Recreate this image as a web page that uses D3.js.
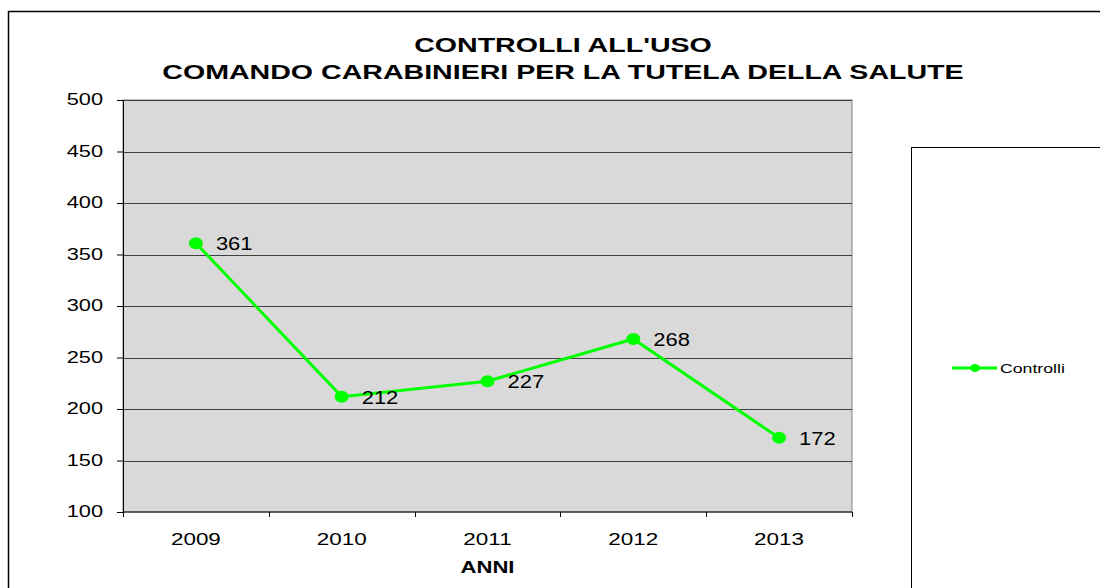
<!DOCTYPE html>
<head>
  <meta charset="utf-8">
  <title>Controlli all'uso</title>
  <style>
    body { margin: 0; background: #fff; }
    text { font-family: Arial, "Liberation Sans", sans-serif; fill: #000; }
  </style>
</head>
<body>
  <script src="https://cdn.jsdelivr.net/npm/d3@7/dist/d3.min.js"></script>
  <script>
    // data
    var years = ["2009", "2010", "2011", "2012", "2013"];
    var controlli = [361, 212, 227, 268, 172];
    var yTicks = [100, 150, 200, 250, 300, 350, 400, 450, 500];
    var seriesName = "Controlli";
    var titleLines = ["CONTROLLI ALL'USO", "COMANDO CARABINIERI PER LA TUTELA DELLA SALUTE"];

    var w = 1100, h = 588;
    // plot area edges (avoid "top", it is window.top)
    var pLeft = 123, pRight = 852, pTop = 100, pBottom = 512;
    var green = "#00ff00";

    // the original picture is stretched sideways, so widen the glyphs
    function stretch(sel, k) {
      sel.each(function() {
        var n = this.getComputedTextLength();
        d3.select(this)
          .attr("textLength", n * k)
          .attr("lengthAdjust", "spacingAndGlyphs");
      });
    }

    var svg = d3.select("body").append("svg")
      .attr("width", w)
      .attr("height", h);

    // outer chart border (runs off the right and bottom edges)
    svg.append("rect")
      .attr("x", 8.5).attr("y", 11.5)
      .attr("width", 1200).attr("height", 700)
      .attr("fill", "#fff")
      .attr("stroke", "#000").attr("stroke-width", 1.5);

    var x = d3.scaleBand().domain(years).range([pLeft, pRight]);
    var y = d3.scaleLinear().domain([100, 500]).range([pBottom, pTop]);

    // plot area
    svg.append("rect")
      .attr("x", pLeft).attr("y", pTop)
      .attr("width", pRight - pLeft).attr("height", pBottom - pTop)
      .attr("fill", "#d9d9d9")
      .attr("stroke", "#808080").attr("stroke-width", 1);

    // gridlines
    svg.append("g")
      .selectAll("line")
      .data(yTicks.slice(1))
      .enter().append("line")
      .attr("x1", pLeft).attr("x2", pRight)
      .attr("y1", function(d) { return Math.round(y(d)) + 0.5; })
      .attr("y2", function(d) { return Math.round(y(d)) + 0.5; })
      .attr("stroke", "#404040").attr("stroke-width", 1);

    // y axis
    var yAxis = d3.axisLeft(y).tickValues(yTicks).tickSize(6).tickPadding(14);
    var gy = svg.append("g")
      .attr("transform", "translate(" + pLeft + ",0)")
      .call(yAxis);
    gy.selectAll("text")
      .attr("font-family", "Arial, 'Liberation Sans', sans-serif")
      .style("font-size", "16px")
      .attr("dy", "0.3em")
      .call(stretch, 1.36);
    gy.selectAll("path, line").attr("stroke", "#000");

    // x axis, ticks between categories
    var xLin = d3.scaleLinear().domain([0, years.length]).range([pLeft, pRight]);
    var gx = svg.append("g")
      .attr("transform", "translate(0," + pBottom + ")");
    gx.append("line")
      .attr("x1", pLeft).attr("x2", pRight)
      .attr("stroke", "#000").attr("stroke-width", 1);
    gx.selectAll("line.tick")
      .data(d3.range(years.length + 1))
      .enter().append("line")
      .attr("class", "tick")
      .attr("x1", function(d) { return Math.round(xLin(d)) + 0.5; })
      .attr("x2", function(d) { return Math.round(xLin(d)) + 0.5; })
      .attr("y1", 0).attr("y2", 5)
      .attr("stroke", "#000");
    gx.selectAll("text")
      .data(years)
      .enter().append("text")
      .attr("x", function(d) { return x(d) + x.bandwidth() / 2; })
      .attr("y", 33)
      .attr("text-anchor", "middle")
      .style("font-size", "17px")
      .text(function(d) { return d; })
      .call(stretch, 1.32);

    // axis title
    svg.append("text")
      .attr("x", (pLeft + pRight) / 2).attr("y", 573)
      .attr("text-anchor", "middle")
      .style("font-size", "16px").style("font-weight", "bold")
      .text("ANNI")
      .call(stretch, 1.38);

    // chart title
    svg.selectAll("text.title")
      .data(titleLines)
      .enter().append("text")
      .attr("class", "title")
      .attr("x", 563)
      .attr("y", function(d, i) { return 52 + i * 27; })
      .attr("text-anchor", "middle")
      .style("font-size", "21px").style("font-weight", "bold")
      .text(function(d) { return d; })
      .call(stretch, 1.36);

    // series line
    var pts = years.map(function(d, i) { return { year: d, value: controlli[i] }; });
    var line = d3.line()
      .x(function(d) { return x(d.year) + x.bandwidth() / 2; })
      .y(function(d) { return y(d.value); });

    svg.append("path")
      .datum(pts)
      .attr("d", line)
      .attr("fill", "none")
      .attr("stroke", green).attr("stroke-width", 3);

    svg.selectAll("ellipse.pt")
      .data(pts)
      .enter().append("ellipse")
      .attr("class", "pt")
      .attr("cx", function(d) { return x(d.year) + x.bandwidth() / 2; })
      .attr("cy", function(d) { return y(d.value); })
      .attr("rx", 7).attr("ry", 6)
      .attr("fill", green);

    // data labels
    svg.selectAll("text.lbl")
      .data(pts)
      .enter().append("text")
      .attr("class", "lbl")
      .attr("x", function(d) { return x(d.year) + x.bandwidth() / 2 + 20; })
      .attr("y", function(d) { return y(d.value) + 7; })
      .style("font-size", "18px")
      .text(function(d) { return d.value; })
      .call(stretch, 1.22);

    // legend box
    svg.append("rect")
      .attr("x", 911.5).attr("y", 147.5)
      .attr("width", 300).attr("height", 500)
      .attr("fill", "#fff")
      .attr("stroke", "#000").attr("stroke-width", 1);

    var lg = svg.append("g").attr("transform", "translate(952,368)");
    lg.append("line")
      .attr("x1", 0).attr("x2", 45)
      .attr("stroke", green).attr("stroke-width", 3);
    lg.append("ellipse")
      .attr("cx", 23).attr("rx", 5).attr("ry", 4)
      .attr("fill", green);
    lg.append("text")
      .attr("x", 48).attr("y", 5)
      .style("font-size", "13px")
      .text(seriesName)
      .call(stretch, 1.36);
  </script>
</body>
